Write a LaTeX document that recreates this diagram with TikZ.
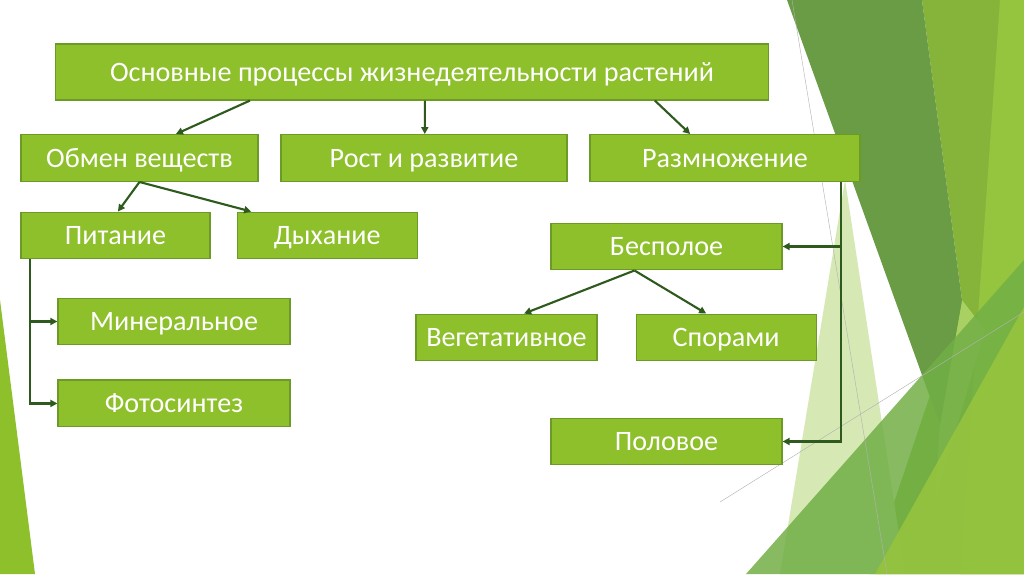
\documentclass[tikz,border=0pt]{standalone}
\usepackage{fontspec}
\setmainfont{Carlito}
\usetikzlibrary{positioning,arrows.meta}
\definecolor{boxfill}{HTML}{8DC02B}
\definecolor{boxline}{HTML}{6C9A26}
\definecolor{linkc}{HTML}{2E5A1D}
\definecolor{leafdark}{HTML}{6A9B45}
\definecolor{leafmid}{HTML}{86B43A}
\definecolor{leafbright}{HTML}{95C43E}
\definecolor{leafpale}{HTML}{D6E8B4}
\definecolor{leaflight}{HTML}{A9D062}
\definecolor{leafgrass}{HTML}{72AF46}

\begin{document}
\begin{tikzpicture}[x=0.025cm,y=-0.025cm,
  every node/.style={draw=boxline,fill=boxfill,line width=0.8pt,text=white,inner sep=0pt,minimum height=1.17cm,text height=13pt,text depth=0pt,font=\fontsize{20}{24}\selectfont},
  link/.style={draw=linkc,line width=1.5pt,-{Triangle[length=5pt,width=5pt]}}]
  \useasboundingbox (0,0) rectangle (1024,574);
  \fill[white] (0,0) rectangle (1024,574);
  % slide decoration
  \fill[boxfill] (0,300) -- (35,574) -- (0,574) -- cycle;
  \fill[leafmid] (922,0) -- (1024,0) -- (1024,574) -- (870,574) -- (962,300) -- cycle;
  \fill[leafbright] (1000,0) -- (1024,0) -- (1024,574) -- (960,574) -- cycle;
  \fill[leaflight] (962,300) -- (985,330) -- (935,500) -- (940,425) -- cycle;
  \fill[leafpale] (845,180) -- (905,574) -- (780,574) -- cycle;
  \fill[leafdark] (787,0) -- (922,0) -- (962,300) -- (940,425) -- cycle;
  \fill[leafgrass,opacity=0.85] (746,574) -- (1024,574) -- (1024,260) -- cycle;
  \fill[leafbright,opacity=0.9] (875,574) -- (1024,574) -- (1024,307) -- cycle;
  \draw[gray!60,line width=0.3pt] (792,0) -- (887,574);
  \draw[gray!60,line width=0.3pt] (720,502) -- (1024,312);

  \node (main) [minimum width=17.8cm,minimum height=1.4cm] at (412,72) {Основные процессы жизнедеятельности растений};
  \node (obmen) [minimum width=5.925cm] at (139.5,158) {Обмен веществ};
  \node (rost) [minimum width=7.15cm] at (424,158) {Рост и развитие};
  \node (razm) [minimum width=6.75cm] at (725,158) {Размножение};
  \node (pitan) [minimum width=4.725cm] at (115.5,235.5) {Питание};
  \node (dyh) [minimum width=4.5cm,right=0.65cm of pitan] {Дыхание};
  \node (miner) [minimum width=5.8cm] at (174,321.5) {Минеральное};
  \node (foto) [minimum width=5.8cm,below=0.85cm of miner] {Фотосинтез};
  \node (bespol) [minimum width=5.775cm] at (666.5,246.5) {Бесполое};
  \node (veget) [minimum width=4.525cm] at (506.5,337.5) {Вегетативное};
  \node (spor) [minimum width=4.5cm,right=0.95cm of veget] {Спорами};
  \node (polov) [minimum width=5.775cm] at (666.5,441.5) {Половое};

  \draw[link] ([xshift=-4.05cm]main.south) -- ([xshift=0.91cm]obmen.north);
  \draw[link] ([xshift=0.32cm]main.south) -- ([xshift=0.02cm]rost.north);
  \draw[link] ([xshift=6.07cm]main.south) -- ([xshift=-0.87cm]razm.north);
  \draw[link] (obmen.south) -- ([xshift=0.06cm]pitan.north);
  \draw[link] (obmen.south) -- ([xshift=-1.9cm]dyh.north);
  \coordinate (pitdown) at ([xshift=0.25cm]pitan.south west);
  \draw[link] (pitdown) |- (miner);
  \draw[link] (pitdown) |- (foto);
  \coordinate (razmdown) at ([xshift=-0.5cm]razm.south east);
  \draw[link] (razmdown) |- (bespol);
  \draw[link] (razmdown) |- (polov);
  \draw[link] ([xshift=-0.8cm]bespol.south) -- ([xshift=0.44cm]veget.north);
  \draw[link] ([xshift=-0.8cm]bespol.south) -- ([xshift=-0.5cm]spor.north);
\end{tikzpicture}
\end{document}
